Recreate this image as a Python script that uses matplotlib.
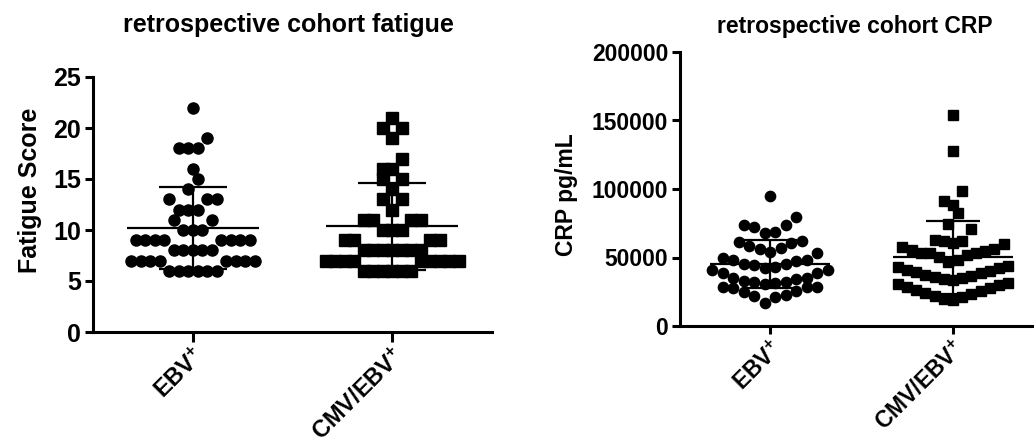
import numpy as np
import matplotlib
matplotlib.use("Agg")
import matplotlib.pyplot as plt

plt.rcParams["font.family"] = ["Liberation Sans", "DejaVu Sans"]
plt.rcParams["font.weight"] = "bold"
plt.rcParams["mathtext.fontset"] = "custom"
plt.rcParams["mathtext.rm"] = "Liberation Sans:bold"
plt.rcParams["mathtext.default"] = "rm"

# data
groups = ["EBV$^{+}$", "CMV/EBV$^{+}$"]

fatigue_ebv = [22, 19, 18, 18, 18, 16, 15, 14, 13, 13, 13, 12, 12, 12, 11, 11,
               10, 10, 10, 9, 9, 9, 9, 9, 9, 9, 9, 8, 8, 8, 8, 8,
               7, 7, 7, 7, 7, 7, 7, 7, 6, 6, 6, 6, 6, 6]
fatigue_cmv = [21, 20, 20, 19, 17, 16, 16, 15, 15, 14, 13, 13, 12, 11, 11, 11, 11,
               10, 10, 10, 9, 9, 9, 9, 8, 8, 8, 8, 8, 8, 8,
               7, 7, 7, 7, 7, 7, 7, 7, 7, 6, 6, 6, 6, 6, 6]

crp_ebv = [95000, 79500, 73700, 73500, 72000, 68400, 67700, 62000, 61500, 60600,
           58600, 57000, 56200, 54200, 53300, 49600, 48200, 48200, 47400, 45000,
           45000, 44500, 43300, 42300, 40900, 40900, 38500, 38500, 35300, 34800,
           34300, 32800, 32300, 32300, 31600, 30400, 28700, 28700, 28200, 27500,
           25800, 24600, 22600, 22100, 21400, 17000]
crp_cmv = [154000, 127700, 98500, 91000, 88000, 82300, 74500, 70600, 62800, 62300,
           62300, 60800, 59600, 57900, 56000, 55500, 55000, 53000, 53000, 53000,
           51800, 50100, 48200, 46900,
           43800, 42900, 42000, 41100, 40200, 39300, 38400, 37500, 36600, 35700,
           34800, 34200, 33600,
           31600, 30600, 29600, 28600, 27500, 26500, 25400, 24300, 23200, 22100,
           21000, 20000, 19000]

fatigue_ticks = [0, 5, 10, 15, 20, 25]
crp_ticks = [0, 50000, 100000, 150000, 200000]

W, H = 1034, 445
fig = plt.figure(figsize=(W / 100, H / 100), dpi=100)


def swarm_slots(vals, bin_h):
    # Prism-like scatter: values binned into rows, lowest in the middle
    vals = np.asarray(vals, float)
    order = np.argsort(vals, kind="stable")
    slots = np.zeros(len(vals))
    i = 0
    while i < len(vals):
        j = i
        while j < len(vals) and vals[order[j]] < vals[order[i]] + bin_h:
            j += 1
        m = j - i
        pos = sorted(np.arange(m) - (m - 1) / 2, key=lambda p: (abs(p), p))
        slots[order[i:j]] = pos
        i = j
    return slots


def panel(rect, xlim, ylim, yticks, datasets, markers, ms, spacing, bins,
          title, ylabel, fs, xfs, title_xy, ylabel_xy, capw, tick_len):
    ax = fig.add_axes(rect)
    ax.set_xlim(*xlim)
    ax.set_ylim(*ylim)
    px_per_x = rect[2] * W / (xlim[1] - xlim[0])
    for i, (vals, mk, sp, bh) in enumerate(zip(datasets, markers, spacing, bins)):
        vals = np.asarray(vals, float)
        x = i + swarm_slots(vals, bh) * sp / px_per_x
        ax.plot(x, vals, ls="none", marker=mk, ms=ms[i], color="black",
                mec="black", clip_on=False, zorder=3)
        m = vals.mean()
        sd = vals.std(ddof=1)
        ax.hlines(m, i - 0.33, i + 0.33, color="black", lw=1.6, zorder=4)
        ax.hlines([m - sd, m + sd], i - capw, i + capw, color="black", lw=1.6, zorder=4)
        ax.vlines(i, m - sd, m + sd, color="black", lw=1.6, zorder=4)

    for s in ["top", "right"]:
        ax.spines[s].set_visible(False)
    for s in ["left", "bottom"]:
        ax.spines[s].set_linewidth(2.2)
    ax.set_yticks(yticks)
    ax.set_yticklabels([str(t) for t in yticks], fontsize=fs)
    ax.set_xticks([0, 1])
    ax.set_xticklabels(groups, rotation=45, ha="right", va="top",
                       rotation_mode="anchor", fontsize=xfs)
    ax.tick_params(axis="y", length=6, width=2.2, pad=2.5)
    ax.tick_params(axis="x", length=tick_len, width=2.2, pad=2)
    fig.text(title_xy[0] / W, 1 - title_xy[1] / H, title, ha="center", va="center",
             fontsize=fs)
    fig.text(ylabel_xy[0] / W, 1 - ylabel_xy[1] / H, ylabel, ha="center", va="center",
             rotation=90, fontsize=fs)
    return ax


panel([93 / W, (H - 332) / H, 399 / W, 255 / H], (-0.5, 1.5), (0, 25), fatigue_ticks,
      [fatigue_ebv, fatigue_cmv], ["o", "s"], [8.0, 8.2], [9.5, 9.5], [1.5, 1.5],
      "retrospective cohort fatigue", "Fatigue Score", 18, 17, (288, 25), (30, 190),
      0.17, 7)

panel([680 / W, (H - 326) / H, 353 / W, 274 / H], (-0.492, 1.437), (0, 200000), crp_ticks,
      [crp_ebv, crp_cmv], ["o", "s"], [7.4, 7.4], [10.5, 9.2], [11900, 13000],
      "retrospective cohort CRP", "CRP pg/mL", 16.5, 16.5, (855, 27), (566, 195),
      0.15, 6)

fig.savefig("out.png", dpi=100)
